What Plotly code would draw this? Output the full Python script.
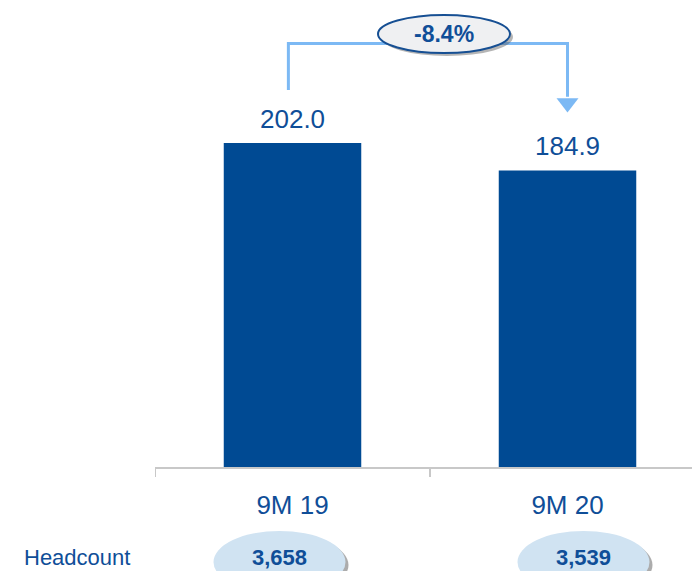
import plotly.graph_objects as go

# data
periods = ["9M 19", "9M 20"]
values = [202.0, 184.9]
headcount = [3658, 3539]
change_label = "-8.4%"

FONT = "Liberation Sans, Arial, sans-serif"
BAR = "#004A93"
TXT = "#0F4E98"
ARROW = "#7CB9F4"

# the page body adds an 8px offset, so the figure is a bit smaller than the window
OFF = 8
W, H = 700 - OFF, 571 - OFF
L, B = 155 - OFF, 104
plot_h = H - B
cat_px = 275.0  # pixels per category
px_per_unit = 324 / 202.0
y_top = plot_h / px_per_unit


def pg_y(p):
    # page pixel row -> paper y
    return (plot_h - (p - OFF)) / plot_h


def pg_x(p):
    # page pixel column -> x data
    return (p - 155) / cat_px - 0.5


fig = go.Figure()
fig.add_trace(go.Bar(x=list(range(len(periods))), y=values, width=0.5,
                     marker=dict(color=BAR, line=dict(width=0)),
                     hoverinfo="skip", showlegend=False))

# value labels
for i, v in enumerate(values):
    fig.add_annotation(x=i, y=v, text=f"{v:.1f}", showarrow=False,
                       xanchor="center", yanchor="bottom", yshift=7,
                       font=dict(family=FONT, size=26, color=TXT))

# bracket arrow between the two bars
gap_top = 264.0
left_bottom = values[0] + 33
right_bottom = values[1] + 46
fig.add_shape(type="path", xref="x", yref="y",
              path=f"M -0.015 {left_bottom} L -0.015 {gap_top} L 1 {gap_top} L 1 {right_bottom}",
              line=dict(color=ARROW, width=3))
fig.add_trace(go.Scatter(x=[1], y=[values[1] + 42], mode="markers",
                         marker=dict(symbol="triangle-down", size=19, color=ARROW,
                                     line=dict(width=0)),
                         hoverinfo="skip", showlegend=False))

# change bubble
bx0, bx1 = pg_x(378), pg_x(510)
by0, by1 = pg_y(53), pg_y(15)
sx, sy = 3 / cat_px, 3 / plot_h
fig.add_shape(type="circle", xref="x", yref="paper", x0=bx0 + sx, x1=bx1 + sx,
              y0=by0 - sy, y1=by1 - sy, fillcolor="rgba(90,90,90,0.45)", line=dict(width=0))
fig.add_shape(type="circle", xref="x", yref="paper", x0=bx0, x1=bx1, y0=by0, y1=by1,
              fillcolor="#EFF0F2", line=dict(color="#164F93", width=2))
fig.add_annotation(x=(bx0 + bx1) / 2, y=(by0 + by1) / 2, xref="x", yref="paper",
                   text=f"<b>{change_label}</b>", showarrow=False,
                   xanchor="center", yanchor="middle",
                   font=dict(family=FONT, size=23, color=TXT))

# headcount row
hc_shift = [-13, 16]
hy0, hy1 = pg_y(593), pg_y(531)
fig.add_annotation(x=(22 - 155) / (700 - 155), y=pg_y(557), xref="paper", yref="paper",
                   text="Headcount", showarrow=False, xanchor="left", yanchor="middle",
                   font=dict(family=FONT, size=22, color=TXT))
for i, hc in enumerate(headcount):
    c = i + hc_shift[i] / cat_px
    fig.add_shape(type="circle", xref="x", yref="paper", x0=c - 0.24 + sx, x1=c + 0.24 + sx,
                  y0=hy0 - sy, y1=hy1 - sy, fillcolor="rgba(90,90,90,0.5)", line=dict(width=0))
    fig.add_shape(type="circle", xref="x", yref="paper", x0=c - 0.24, x1=c + 0.24,
                  y0=hy0, y1=hy1, fillcolor="#D0E3F2", line=dict(width=0))
    fig.add_annotation(x=c, y=pg_y(557), xref="x", yref="paper",
                       text=f"<b>{hc:,}</b>", showarrow=False,
                       xanchor="center", yanchor="middle",
                       font=dict(family=FONT, size=22, color=TXT))

fig.update_layout(
    width=W, height=H,
    margin=dict(l=L, r=0, t=0, b=B),
    paper_bgcolor="white", plot_bgcolor="white",
)
fig.update_xaxes(tickmode="array", tickvals=list(range(len(periods))), ticktext=periods,
                 range=[-0.5, pg_x(700)],
                 showline=True, linecolor="#C8C8C8", linewidth=2,
                 showgrid=False, zeroline=False, ticks="", ticklabelstandoff=14,
                 tickfont=dict(family=FONT, size=26, color=TXT))
# boundary ticks
for b in [-0.5, 0.5]:
    fig.add_shape(type="line", xref="x", yref="paper", x0=b, x1=b, y0=0, y1=-10 / plot_h,
                  line=dict(color="#C8C8C8", width=2))
fig.update_yaxes(range=[0, y_top], visible=False, showgrid=False)

fig.write_html("out.html")
